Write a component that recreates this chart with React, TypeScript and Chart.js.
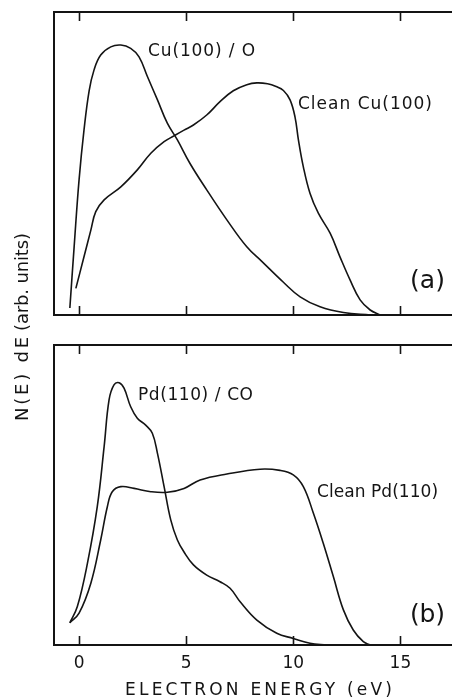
import React, { useEffect, useRef } from "react";
import { Chart, registerables } from "chart.js";

Chart.register(...registerables);

// ---------- Data ----------
// Panel (a): Cu(100)/O
const cuOxygenE = [-0.43, -0.23, 0.0, 0.23, 0.47, 0.7, 1.01, 1.48, 1.95, 2.41, 2.8, 3.19, 3.66, 4.12, 4.59, 5.18, 5.96, 6.9, 7.83, 8.53, 9.54, 10.32, 11.25, 12.34, 13.6];
const cuOxygenN = [2.3, 22.5, 44.6, 61, 74, 80.9, 85.8, 88.5, 89.1, 88, 85.2, 78.7, 71, 63.3, 57.8, 50, 41.3, 31.4, 22.5, 17.7, 10.8, 6, 2.7, 0.8, 0];
// Panel (a): Clean Cu(100)
const cleanCuE = [-0.15, 0.23, 0.55, 0.78, 1.17, 1.95, 2.72, 3.35, 3.97, 4.43, 4.9, 5.34, 5.96, 6.58, 7.2, 7.83, 8.3, 8.8, 9.2, 9.54, 9.85, 10.08, 10.24, 10.47, 10.78, 11.17, 11.72, 12.18, 12.65, 13.12, 13.59, 14.05];
const cleanCuN = [8.8, 19.2, 28, 34.1, 38, 42.3, 47.9, 53.4, 57.2, 59.1, 61, 62.7, 66, 70.4, 74, 76, 76.6, 76.3, 75.4, 74.1, 71, 65.4, 57.8, 48.9, 40.2, 33.6, 27, 19.2, 11.6, 5, 1.65, 0];
// Panel (b): Pd(110)/CO
const pdCoE = [-0.43, -0.08, 0.39, 0.85, 1.17, 1.4, 1.63, 1.87, 2.1, 2.41, 2.72, 3.11, 3.42, 3.66, 3.97, 4.28, 4.59, 4.9, 5.34, 5.96, 6.58, 7.05, 7.52, 8.3, 9.23, 10.0, 10.78, 11.56];
const pdCoN = [7.4, 12.8, 27.2, 46.1, 66.1, 81.7, 86.7, 87.4, 85.6, 79.4, 75.6, 73.3, 70.6, 63.9, 52.8, 41.7, 35, 31, 26.7, 23.3, 21.1, 18.9, 14.4, 8.3, 3.9, 2.2, 0.6, 0];
// Panel (b): Clean Pd(110)
const cleanPdE = [-0.43, 0.0, 0.55, 1.01, 1.32, 1.55, 1.95, 2.57, 3.35, 4.12, 4.9, 5.65, 6.9, 8.45, 9.38, 10.0, 10.47, 10.94, 11.4, 11.87, 12.34, 12.8, 13.27, 13.59];
const cleanPdN = [7.4, 10.6, 20.6, 35, 46.1, 51.1, 52.8, 52.2, 51.1, 50.9, 52.2, 55, 57, 58.6, 58.2, 56.7, 52.8, 43.9, 33.9, 22.8, 11.7, 5, 1.1, 0];

const xTickValues = [0, 5, 10, 15];
const xMin = -1.17;
const xMax = 17.41;
const yMin = 0;
const yMax = 100;

// ---------- Styling / layout ----------
const INK = "#141414";
const FONT = '"DejaVu Sans", sans-serif';
const W = 452;
const H = 700;

type Label = { text: string; x: number; y: number; size: number; width: number };

const zip = (xs: number[], ys: number[]) => xs.map((x, i) => ({ x, y: ys[i] }));

function drawFitted(ctx: CanvasRenderingContext2D, text: string, x: number, y: number, size: number, width: number, weight = "normal") {
  ctx.font = `${weight} ${size}px ${FONT}`;
  (ctx as any).letterSpacing = "0px";
  const w = ctx.measureText(text).width;
  const n = Array.from(text).length;
  const ls = n > 1 ? (width - w) / (n - 1) : 0;
  (ctx as any).letterSpacing = `${ls}px`;
  ctx.textAlign = "left";
  ctx.textBaseline = "middle";
  ctx.fillText(text, x, y);
  (ctx as any).letterSpacing = "0px";
}

function makeFramePlugin(labels: Label[], withGlobal: boolean) {
  return {
    id: "frameAndText",
    afterDraw(chart: any) {
      const { ctx, chartArea: a, scales } = chart;
      ctx.save();
      ctx.strokeStyle = INK;
      ctx.lineWidth = 2;
      ctx.lineCap = "butt";
      ctx.beginPath();
      ctx.moveTo(a.right, a.top);
      ctx.lineTo(a.left, a.top);
      ctx.lineTo(a.left, a.bottom);
      ctx.lineTo(a.right, a.bottom);
      ctx.stroke();
      ctx.lineWidth = 1.6;
      ctx.beginPath();
      for (const v of xTickValues) {
        const px = Math.round(scales.x.getPixelForValue(v)) + 0.5;
        ctx.moveTo(px, a.top);
        ctx.lineTo(px, a.top + 9);
        ctx.moveTo(px, a.bottom);
        ctx.lineTo(px, a.bottom - 9);
      }
      ctx.stroke();
      ctx.fillStyle = INK;
      for (const l of labels) {
        const px = scales.x.getPixelForValue(l.x);
        const py = scales.y.getPixelForValue(l.y);
        drawFitted(ctx, l.text, px, py, l.size, l.width);
      }
      if (withGlobal) {
        drawFitted(ctx, "ELECTRON ENERGY (eV)", 125, 691, 17, 267);
        ctx.save();
        ctx.translate(23, 0);
        ctx.rotate(-Math.PI / 2);
        drawFitted(ctx, "N(E) dE", -421, 0, 18, 84);
        drawFitted(ctx, "(arb. units)", -331, 0, 18, 98);
        ctx.restore();
      }
      ctx.restore();
    },
  };
}

function lineDs(label: string, xs: number[], ys: number[]) {
  return {
    label,
    data: zip(xs, ys),
    borderColor: INK,
    borderWidth: 1.6,
    pointRadius: 0,
    fill: false,
    tension: 0.4,
  };
}

function makeChart(canvas: HTMLCanvasElement, panel: "a" | "b") {
  const top = panel === "a" ? 12 : 345;
  const bottom = panel === "a" ? 315 : 645;
  const showTicks = panel === "b";
  const axisH = showTicks ? 40 : 0;
  const datasets =
    panel === "a"
      ? [lineDs("Cu(100)/O", cuOxygenE, cuOxygenN), lineDs("Clean Cu(100)", cleanCuE, cleanCuN)]
      : [lineDs("Pd(110)/CO", pdCoE, pdCoN), lineDs("Clean Pd(110)", cleanPdE, cleanPdN)];
  const labels: Label[] =
    panel === "a"
      ? [
          { text: "Cu(100) / O", x: 3.22, y: 86.8, size: 17, width: 107 },
          { text: "Clean Cu(100)", x: 10.22, y: 69.6, size: 17, width: 134 },
          { text: "(a)", x: 15.45, y: 10.9, size: 25, width: 35 },
        ]
      : [
          { text: "Pd(110) / CO", x: 2.75, y: 83, size: 17, width: 115 },
          { text: "Clean Pd(110)", x: 11.11, y: 50.7, size: 17, width: 121 },
          { text: "(b)", x: 15.45, y: 10, size: 25, width: 35 },
        ];
  return new Chart(canvas, {
    type: "line",
    data: { datasets },
    options: {
      animation: false,
      responsive: false,
      devicePixelRatio: 1,
      events: [],
      layout: { padding: { left: 54, right: 0, top, bottom: H - bottom - axisH } },
      plugins: { legend: { display: false }, tooltip: { enabled: false }, title: { display: false } },
      scales: {
        x: {
          type: "linear",
          min: xMin,
          max: xMax,
          display: showTicks,
          grid: { display: false, drawTicks: false },
          border: { display: false },
          ticks: { color: INK, font: { family: FONT, size: 17 }, padding: 8, maxRotation: 0, autoSkip: false },
          afterBuildTicks: (s: any) => {
            s.ticks = xTickValues.map((v) => ({ value: v }));
          },
          afterFit: (s: any) => {
            s.height = axisH;
          },
        },
        y: { type: "linear", min: yMin, max: yMax, display: false },
      },
    },
    plugins: [makeFramePlugin(labels, panel === "b")],
  } as any);
}

export default function App() {
  const refA = useRef<HTMLCanvasElement>(null);
  const refB = useRef<HTMLCanvasElement>(null);
  useEffect(() => {
    const ca = makeChart(refA.current!, "a");
    const cb = makeChart(refB.current!, "b");
    return () => {
      ca.destroy();
      cb.destroy();
    };
  }, []);
  const cs: React.CSSProperties = { position: "absolute", left: 0, top: 0, width: W, height: H };
  return (
    <div style={{ position: "absolute", left: 0, top: 0, width: W, height: H, background: "#fff" }}>
      <canvas ref={refA} width={W} height={H} style={cs} />
      <canvas ref={refB} width={W} height={H} style={cs} />
    </div>
  );
}
